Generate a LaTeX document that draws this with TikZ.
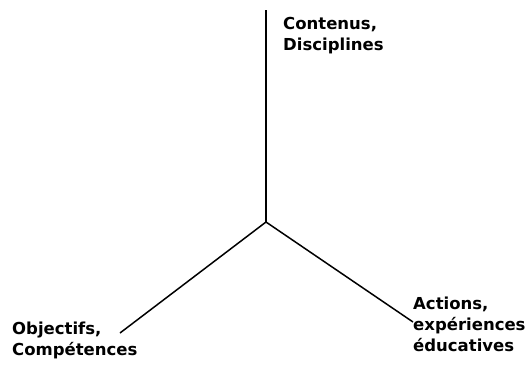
\documentclass[tikz,border=0pt]{standalone}
\usepackage{fontspec}
\setmainfont{DejaVu Sans}
\tikzset{pole/.style={font=\bfseries\fontsize{16.5}{21}\selectfont,align=left,inner sep=0pt}}
\begin{document}
\begin{tikzpicture}[x=1pt,y=1pt]
\useasboundingbox (0,0) rectangle (530,-365);

\coordinate (centre) at (266,-222);
\coordinate (haut) at (266,-10);
\coordinate (gauche) at (120,-333);
\coordinate (droite) at (413,-322);

\draw[line width=1.5pt] (centre) -- (haut);
\draw[line width=1.5pt] (centre) -- (gauche);
\draw[line width=1.5pt] (centre) -- (droite);

\node[pole,anchor=north west] (contenus) at (283,-17) {Contenus,\\Disciplines};
\node[pole,anchor=north west] (objectifs) at (12,-322) {Objectifs,\\Compétences};
\node[pole,anchor=north west] (actions) at (413,-297) {Actions,\\expériences\\éducatives};
\end{tikzpicture}
\end{document}
